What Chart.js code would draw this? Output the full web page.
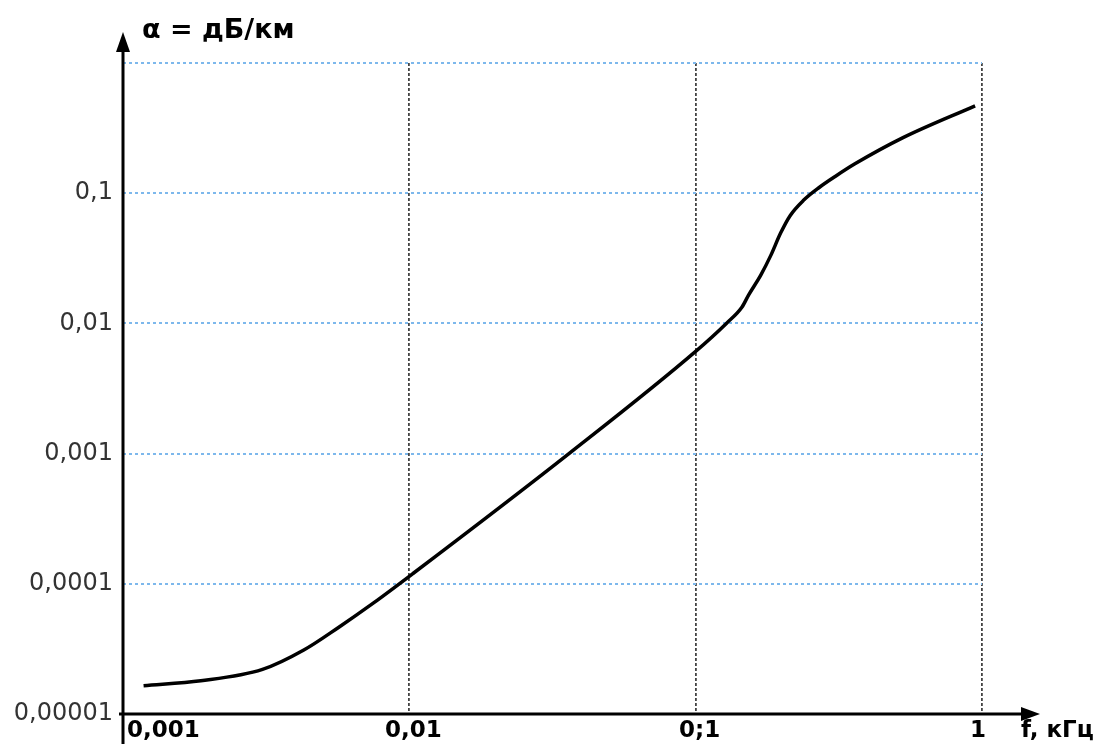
<!DOCTYPE html>
<html>
<head>
<meta charset="utf-8">
<script src="https://cdn.jsdelivr.net/npm/chart.js@4/dist/chart.umd.min.js"></script>
<style>
  html, body { margin: 0; padding: 0; background: #fff; }
  #wrap { width: 1099px; height: 744px; position: relative; }
</style>
</head>
<body>
<div id="wrap"><canvas id="c"></canvas></div>
<script>
// ─── Data ───────────────────────────────────────────────────────────────────
const xTicks = [0.001, 0.01, 0.1, 1];
const xTickLabels = ['0,001', '0,01', '0;1', '1'];
const yTicks = [0.00001, 0.0001, 0.001, 0.01, 0.1, 1];
const yTickLabels = ['0,00001', '0,0001', '0,001', '0,01', '0,1', ''];

// f, kHz
const freq = [0.00118, 0.00187, 0.00307, 0.00428, 0.00564, 0.00748, 0.0103, 0.0361,
  0.1, 0.128, 0.145, 0.153, 0.169, 0.183, 0.198, 0.214, 0.238, 0.270, 0.308, 0.36, 0.53, 0.946];
// alpha, dB/km
const alpha = [1.65e-5, 1.8e-5, 2.2e-5, 3.1e-5, 4.6e-5, 7.1e-5, 1.2e-4, 0.001,
  0.0061, 0.0100, 0.0133, 0.0165, 0.0236, 0.0333, 0.0494, 0.0675, 0.0881, 0.1106, 0.135, 0.168, 0.267, 0.469];

const titleText = 'α = дБ/км';
const xAxisText = 'f, кГц';
const FONT = '"DejaVu Sans", "Liberation Sans", sans-serif';

// ─── Axes with arrows + captions ────────────────────────────────────────────
const axesPlugin = {
  id: 'axesArrows',
  afterDraw(chart) {
    const { ctx, chartArea: a } = chart;
    ctx.save();
    ctx.strokeStyle = '#000';
    ctx.fillStyle = '#000';
    ctx.lineWidth = 3;
    // y axis
    ctx.beginPath(); ctx.moveTo(a.left, 744); ctx.lineTo(a.left, 46); ctx.stroke();
    ctx.beginPath(); ctx.moveTo(a.left, 32); ctx.lineTo(a.left - 7, 52); ctx.lineTo(a.left + 7, 52); ctx.closePath(); ctx.fill();
    // x axis
    ctx.beginPath(); ctx.moveTo(a.left - 4, a.bottom); ctx.lineTo(1028, a.bottom); ctx.stroke();
    ctx.beginPath(); ctx.moveTo(1040, a.bottom); ctx.lineTo(1021, a.bottom - 7); ctx.lineTo(1021, a.bottom + 7); ctx.closePath(); ctx.fill();
    // captions
    ctx.textBaseline = 'alphabetic';
    ctx.textAlign = 'left';
    ctx.font = 'bold 27px ' + FONT;
    ctx.fillText(titleText, 142, 38);
    ctx.font = 'bold 23px ' + FONT;
    ctx.fillText(xAxisText, 1021, 737);
    ctx.restore();
  }
};

new Chart(document.getElementById('c'), {
  type: 'line',
  data: {
    datasets: [{
      data: freq.map((f, i) => ({ x: f, y: alpha[i] })),
      borderColor: '#000',
      borderWidth: 3.5,
      pointRadius: 0,
      fill: false,
      cubicInterpolationMode: 'monotone'
    }]
  },
  options: {
    responsive: true,
    maintainAspectRatio: false,
    animation: false,
    layout: { padding: { top: 63, right: 117, bottom: 0, left: 0 } },
    plugins: { legend: { display: false }, tooltip: { enabled: false }, title: { display: false } },
    scales: {
      x: {
        type: 'logarithmic',
        min: 0.001, max: 1,
        afterBuildTicks: s => { s.ticks = xTicks.map(v => ({ value: v })); },
        afterFit: s => { s.height = 30; },
        border: { display: false, dash: [3, 2] },
        grid: { color: '#444', lineWidth: 1.8, drawTicks: false },
        ticks: {
          autoSkip: false, maxRotation: 0, align: 'inner', labelOffset: 4, padding: 3,
          color: '#000', font: { family: FONT, size: 23, weight: 'bold' },
          callback: (v, i) => xTickLabels[i]
        }
      },
      y: {
        type: 'logarithmic',
        min: 0.00001, max: 1,
        afterBuildTicks: s => { s.ticks = yTicks.map(v => ({ value: v })); },
        afterFit: s => { s.width = 123; },
        border: { display: false, dash: [3, 3] },
        grid: { color: '#7db8ec', lineWidth: 2, drawTicks: false },
        ticks: {
          autoSkip: false, padding: 10,
          color: '#333', font: { family: FONT, size: 24 },
          callback: (v, i) => yTickLabels[i]
        }
      }
    }
  },
  plugins: [axesPlugin]
});
</script>
</body>
</html>
